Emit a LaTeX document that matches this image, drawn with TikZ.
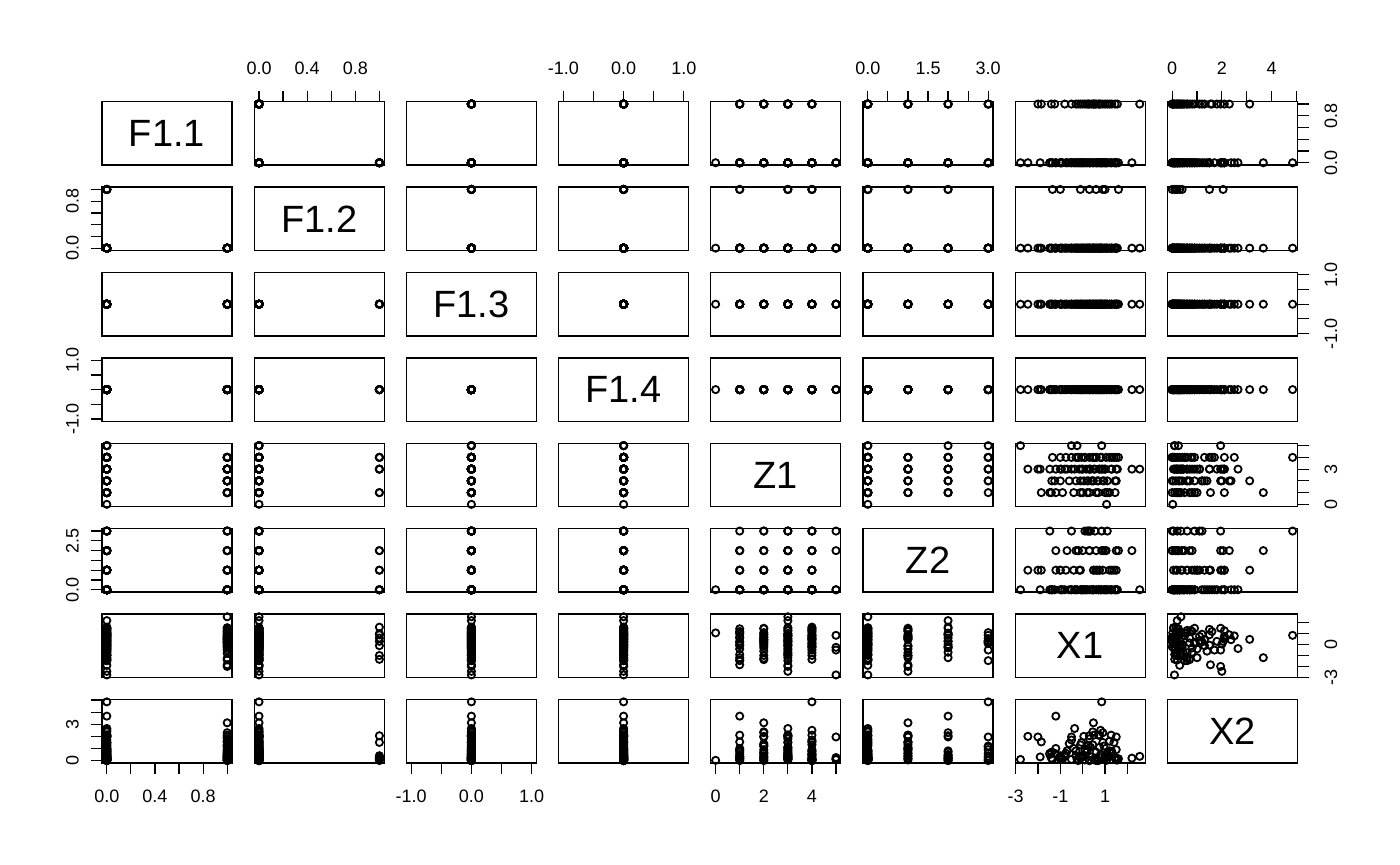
\documentclass[tikz,border=0pt]{standalone}
\usepackage{fontspec}
\setmainfont{Liberation Sans}
\begin{document}
\def\datalist{%
0/0/0/0/1.07/0.02, 0/0/5/0/-2.78/0.09, 0/0/5/2/0.85/0.25, 0/0/5/3/-0.5/1.95, 0/0/5/0/-0.25/0.1,
0/0/4/3/0.85/4.85, 0/0/1/2/-1.2/3.67, 0/0/3/2/2.2/0.2, 0/0/3/1/-2.45/2.0,
0/1/4/0/-1.35/0.1, 0/1/3/1/-1.0/0.4, 0/1/1/0/-0.1/0.2, 0/1/3/2/0.3/2.05,
0/1/4/0/0.6/0.0, 0/1/3/1/0.9/1.5, 0/1/1/0/1.0/0.3, 0/1/4/2/1.6/0.15,
1/0/2/1/0.48/3.12, 1/0/3/0/2.55/0.35, 1/0/3/1/-2.0/1.95, 1/0/1/1/-1.85/1.54,
1/0/1/0/-1.4/0.2, 1/0/2/0/-1.25/0.6, 1/0/3/0/-0.5/0.1, 1/0/4/0/-0.3/0.8,
1/0/2/1/-0.1/1.3, 1/0/3/2/0.0/0.4, 1/0/4/3/0.1/0.05, 1/0/1/0/0.2/0.9,
1/0/3/0/0.3/1.8, 1/0/2/0/0.4/0.3, 1/0/4/1/0.5/2.1, 1/0/3/3/0.55/0.2,
1/0/1/2/0.6/0.7, 1/0/2/0/0.7/0.0, 1/0/3/1/0.75/1.1, 1/0/4/0/0.8/0.5,
1/0/2/2/0.9/2.3, 1/0/3/0/1.0/0.15, 1/0/1/3/1.1/0.35, 1/0/4/0/1.2/1.6,
1/0/3/1/1.3/0.6, 1/0/2/0/1.45/0.25, 1/0/3/0/-0.8/0.45, 1/0/4/2/-0.2/0.0,
1/0/2/3/0.25/1.2, 1/0/3/0/1.55/0.05,
0/0/1/0/-1.47/0.5, 0/0/1/0/-0.9/0.1, 0/0/1/1/-0.4/1.0, 0/0/1/0/0.0/0.3,
0/0/1/2/0.3/0.0, 0/0/1/0/0.7/2.1, 0/0/1/1/1.2/0.8, 0/0/1/0/1.45/0.2,
0/0/2/0/-1.38/0.7, 0/0/2/1/-1.0/0.15, 0/0/2/0/-0.6/1.4, 0/0/2/2/-0.3/0.4,
0/0/2/0/0.05/2.0, 0/0/2/3/0.2/0.9, 0/0/2/0/0.45/2.37, 0/0/2/1/0.65/0.05,
0/0/2/0/0.95/1.2, 0/0/2/2/1.5/1.95, 0/0/2/0/1.1/0.6,
0/0/3/0/-1.9/0.3, 0/0/3/3/-1.47/0.6, 0/0/3/1/-1.2/1.0, 0/0/3/0/-0.95/0.2,
0/0/3/2/-0.7/0.8, 0/0/3/0/-0.36/2.65, 0/0/3/1/-0.15/0.35, 0/0/3/0/0.16/0.7,
0/0/3/3/0.35/1.1, 0/0/3/0/0.5/0.1, 0/0/3/1/0.75/2.1, 0/0/3/0/0.85/0.45,
0/0/3/2/1.0/0.25, 0/0/3/0/1.27/2.1, 0/0/3/1/1.5/0.9, 0/0/3/0/-0.05/1.5,
0/0/4/0/-1.0/0.3, 0/0/4/1/-0.75/0.6, 0/0/4/0/-0.5/1.7, 0/0/4/2/-0.2/0.1,
0/0/4/0/0.1/0.9, 0/0/4/3/0.3/0.0, 0/0/4/0/0.45/1.3, 0/0/4/1/0.6/0.2,
0/0/4/0/0.8/2.5, 0/0/4/2/1.05/0.5, 0/0/4/0/1.3/0.75, 0/0/4/0/1.5/0.05,
0/0/4/1/1.4/1.5, 0/0/4/0/-0.05/0.4}
\newcommand\myval[1]{\ifcase#1\or\A\or\B\or0\or0\or\Z\or\W\or\X\or\Y\fi}
\newcommand\myoff[1]{\ifcase#1\or-0.04\or-0.04\or-1.08\or-1.08\or-0.2\or-0.12\or-3.0152\or-0.194\fi}
\newcommand\myscl[1]{\ifcase#1\or1.08\or1.08\or2.16\or2.16\or5.4\or3.24\or5.8104\or5.238\fi}
\newcommand\myname[1]{\ifcase#1\or F1.1\or F1.2\or F1.3\or F1.4\or Z1\or Z2\or X1\or X2\fi}
\newcommand\colx[2]{\edef\tmpo{\myoff{#1}}\edef\tmps{\myscl{#1}}%
  \pgfmathsetmacro\tx{102+152.2*(#1-1)+130*((#2)-(\tmpo))/\tmps}}
\newcommand\rowy[2]{\edef\tmpo{\myoff{#1}}\edef\tmps{\myscl{#1}}%
  \pgfmathsetmacro\ty{101.7+85.4*(#1-1)+63.4*(1-((#2)-(\tmpo))/\tmps)}}
\begin{tikzpicture}[x=0.5pt,y=-0.5pt,
  box/.style={draw=black,line width=0.65pt},
  pt/.style={draw=black,line width=0.9pt},
  tk/.style={draw=black,line width=0.6pt},
  axl/.style={font=\fontsize{9}{11}\selectfont,inner sep=0pt},
  dlab/.style={font=\fontsize{19}{22}\selectfont,inner sep=0pt}]
\useasboundingbox (0,0) rectangle (1400,865);
\fill[white] (0,0) rectangle (1400,865);
\foreach \i in {1,...,8}{
  \foreach \j in {1,...,8}{
    \pgfmathsetmacro\L{102+152.2*(\j-1)}
    \pgfmathsetmacro\T{101.7+85.4*(\i-1)}
    \ifnum\i=\j
      \node[dlab] (lab\i) at (\L+65,\T+31.7) {\myname{\i}};
    \else
      \edef\ox{\myoff{\j}}\edef\sx{\myscl{\j}}
      \edef\oy{\myoff{\i}}\edef\sy{\myscl{\i}}
      \foreach \A/\B/\Z/\W/\X/\Y in \datalist {
        \edef\vx{\myval{\j}}\edef\vy{\myval{\i}}
        \pgfmathsetmacro\px{\L+130*((\vx)-(\ox))/\sx}
        \pgfmathsetmacro\py{\T+63.4*(1-((\vy)-(\oy))/\sy)}
        \draw[pt] (\px,\py) circle[radius=1.8pt];
      }
    \fi
    \draw[box] (\L,\T) rectangle ++(130,63.4);
  }
}
% top axes (row 1)
\foreach \c/\ticks/\labs in {2/{0,0.2,0.4,0.6,0.8,1}/{0/0.0,0.4/0.4,0.8/0.8},
  4/{-1,-0.5,0,0.5,1}/{-1/-1.0,0/0.0,1/1.0},
  6/{0,0.5,1,1.5,2,2.5,3}/{0/0.0,1.5/1.5,3/3.0},
  8/{0,1,2,3,4,5}/{0/0,2/2,4/4}}{
  \foreach \t in \ticks {\colx{\c}{\t}\draw[tk] (\tx,101.7) -- (\tx,90.9);}
  \foreach \t/\s [count=\k] in \labs {\colx{\c}{\t}\node[axl,anchor=base] (top\c\k) at (\tx,75) {\s};}
}
% bottom axes (row 8)
\foreach \c/\ticks/\labs in {1/{0,0.2,0.4,0.6,0.8,1}/{0/0.0,0.4/0.4,0.8/0.8},
  3/{-1,-0.5,0,0.5,1}/{-1/-1.0,0/0.0,1/1.0},
  5/{0,1,2,3,4,5}/{0/0,2/2,4/4},
  7/{-3,-2,-1,0,1,2}/{-3/-3,-1/-1,1/1}}{
  \foreach \t in \ticks {\colx{\c}{\t}\draw[tk] (\tx,762.7) -- (\tx,773.5);}
  \foreach \t/\s [count=\k] in \labs {\colx{\c}{\t}\node[axl,anchor=north] (bot\c\k) at (\tx,789.7) {\s};}
}
% left axes (col 1)
\foreach \r/\ticks/\labs in {2/{0,0.2,0.4,0.6,0.8,1}/{0/0.0,0.8/0.8},
  4/{-1,-0.5,0,0.5,1}/{-1/-1.0,1/1.0},
  6/{0,0.5,1,1.5,2,2.5,3}/{0/0.0,2.5/2.5},
  8/{0,1,2,3,4,5}/{0/0,3/3}}{
  \foreach \t in \ticks {\rowy{\r}{\t}\draw[tk] (102,\ty) -- (91.2,\ty);}
  \foreach \t/\s [count=\k] in \labs {\rowy{\r}{\t}\node[axl,rotate=90,anchor=base] (lft\r\k) at (78.5,\ty) {\s};}
}
% right axes (col 8)
\foreach \r/\ticks/\labs in {1/{0,0.2,0.4,0.6,0.8,1}/{0/0.0,0.8/0.8},
  3/{-1,-0.5,0,0.5,1}/{-1/-1.0,1/1.0},
  5/{0,1,2,3,4,5}/{0/0,3/3},
  7/{-3,-2,-1,0,1,2}/{-3/-3,0/0}}{
  \foreach \t in \ticks {\rowy{\r}{\t}\draw[tk] (1297.7,\ty) -- (1308.5,\ty);}
  \foreach \t/\s [count=\k] in \labs {\rowy{\r}{\t}\node[axl,rotate=90,anchor=north] (rgt\r\k) at (1324.2,\ty) {\s};}
}
\end{tikzpicture}
\end{document}
